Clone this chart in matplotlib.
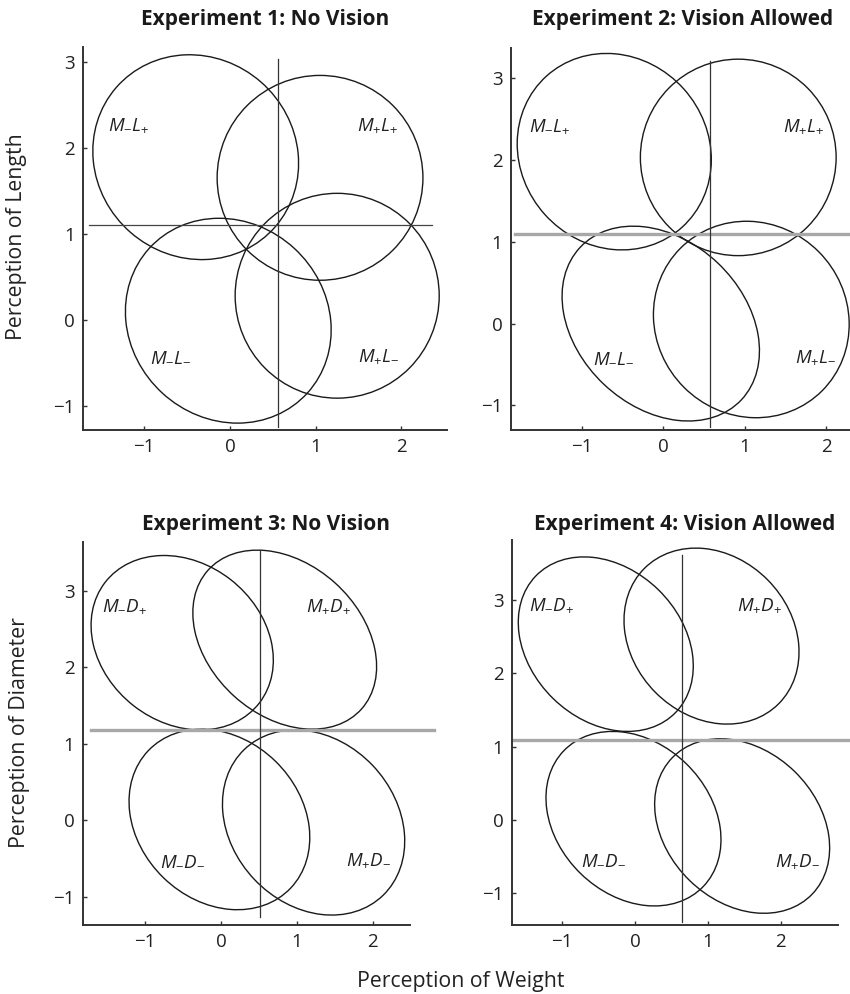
import numpy as np
import matplotlib
matplotlib.use("Agg")
import matplotlib.pyplot as plt
from matplotlib.patches import Ellipse

plt.rcParams["font.family"] = ["Open Sans", "DejaVu Sans"]
plt.rcParams["mathtext.fontset"] = "custom"
plt.rcParams["mathtext.it"] = "Open Sans:italic"
plt.rcParams["mathtext.rm"] = "Open Sans"

titles = [
    "Experiment 1: No Vision",
    "Experiment 2: Vision Allowed",
    "Experiment 3: No Vision",
    "Experiment 4: Vision Allowed",
]
cond_labels = [
    [r"$M_{-}L_{+}$", r"$M_{+}L_{+}$", r"$M_{-}L_{-}$", r"$M_{+}L_{-}$"],
    [r"$M_{-}L_{+}$", r"$M_{+}L_{+}$", r"$M_{-}L_{-}$", r"$M_{+}L_{-}$"],
    [r"$M_{-}D_{+}$", r"$M_{+}D_{+}$", r"$M_{-}D_{-}$", r"$M_{+}D_{-}$"],
    [r"$M_{-}D_{+}$", r"$M_{+}D_{+}$", r"$M_{-}D_{-}$", r"$M_{+}D_{-}$"],
]

# ellipse centres, half extents and tilt (correlation), one row per experiment
centre_x = [
    [-0.40, 1.05, -0.02, 1.25],
    [-0.60, 0.92, -0.03, 1.08],
    [-0.51, 0.84, -0.02, 1.22],
    [-0.40, 1.05, -0.02, 1.47],
]
centre_y = [
    [1.89, 1.65, -0.01, 0.28],
    [2.10, 2.03, 0.00, 0.05],
    [2.32, 2.36, 0.01, -0.03],
    [2.40, 2.51, 0.02, -0.08],
]
half_w = [
    [1.20, 1.20, 1.20, 1.19],
    [1.19, 1.20, 1.21, 1.20],
    [1.20, 1.21, 1.19, 1.20],
    [1.20, 1.20, 1.20, 1.20],
]
half_h = [
    [1.19, 1.19, 1.19, 1.19],
    [1.20, 1.20, 1.19, 1.20],
    [1.14, 1.17, 1.18, 1.21],
    [1.19, 1.20, 1.19, 1.19],
]
corr = [
    [-0.06, 0.00, -0.09, 0.00],
    [-0.08, 0.00, -0.28, -0.05],
    [-0.20, -0.30, -0.20, -0.20],
    [-0.25, -0.18, -0.24, -0.25],
]
label_x = [
    [-1.42, 1.48, -0.93, 1.49],
    [-1.64, 1.47, -0.86, 1.61],
    [-1.56, 1.12, -0.80, 1.65],
    [-1.45, 1.40, -0.74, 1.92],
]
label_y = [
    [2.20, 2.20, -0.48, -0.48],
    [2.35, 2.35, -0.47, -0.47],
    [2.74, 2.74, -0.58, -0.58],
    [2.86, 2.86, -0.60, -0.62],
]

# grand mean lines
vline_x = [0.56, 0.57, 0.52, 0.64]
vline_y0 = [-1.24, -1.26, -1.27, -1.39]
vline_y1 = [3.03, 3.21, 3.53, 3.62]
hline_y = [1.10, 1.09, 1.18, 1.09]
hline_x0 = [-1.65, -1.82, -1.71, -1.67]
hline_x1 = [2.36, 2.40, 2.80, 2.95]
hline_gray = [False, True, True, True]

x_ticks = [-1, 0, 1, 2]
y_ticks = [-1, 0, 1, 2, 3]

# layout: axes boxes and limits
axes_box = [
    [0.0976, 0.5674, 0.4282, 0.3853],
    [0.6008, 0.5674, 0.3992, 0.3846],
    [0.0973, 0.0694, 0.3851, 0.3856],
    [0.6020, 0.0694, 0.3835, 0.3873],
]
x_lims = [(-1.715, 2.53), (-1.87, 2.29), (-1.82, 2.49), (-1.69, 2.78)]
y_lims = [(-1.28, 3.17), (-1.30, 3.37), (-1.37, 3.64), (-1.43, 3.82)]
title_pos = [(265, 25), (683, 25), (266, 530), (685, 530)]

W, H = 850, 994
fig = plt.figure(figsize=(8.5, 9.94), dpi=100)

for i in range(4):
    ax = fig.add_axes(axes_box[i])
    for k in range(4):
        w, h, r = half_w[i][k], half_h[i][k], corr[i][k]
        cov = np.array([[w * w, r * w * h], [r * w * h, h * h]])
        vals, vecs = np.linalg.eigh(cov)
        ang = np.degrees(np.arctan2(vecs[1, 1], vecs[0, 1]))
        e = Ellipse((centre_x[i][k], centre_y[i][k]), 2 * np.sqrt(vals[1]),
                    2 * np.sqrt(vals[0]), angle=ang, fill=False,
                    edgecolor="#1a1a1a", linewidth=1.0, clip_on=False)
        ax.add_patch(e)
        ax.text(label_x[i][k], label_y[i][k], cond_labels[i][k], fontsize=13.5,
                color="#222222", ha="left", va="baseline")

    if hline_gray[i]:
        ax.plot([hline_x0[i], hline_x1[i]], [hline_y[i], hline_y[i]],
                color="#a8a8a8", linewidth=2.4, clip_on=False, zorder=1)
    else:
        ax.plot([hline_x0[i], hline_x1[i]], [hline_y[i], hline_y[i]],
                color="#444444", linewidth=0.9, clip_on=False, zorder=1)
    ax.plot([vline_x[i], vline_x[i]], [vline_y0[i], vline_y1[i]],
            color="#333333", linewidth=0.9, clip_on=False)

    ax.set_xlim(*x_lims[i])
    ax.set_ylim(*y_lims[i])
    ax.set_xticks(x_ticks)
    ax.set_yticks(y_ticks)
    ax.spines["top"].set_visible(False)
    ax.spines["right"].set_visible(False)
    for s in ["left", "bottom"]:
        ax.spines[s].set_linewidth(1.4)
        ax.spines[s].set_color("#333333")
    ax.tick_params(direction="in", length=3, width=1, color="#333333",
                   labelsize=13.5, labelcolor="#222222", pad=6)
    ax.set_facecolor("none")

    tx, ty = title_pos[i]
    fig.text(tx / W, 1 - ty / H, titles[i], fontsize=15, fontweight="bold",
             ha="center", va="baseline", color="#1a1a1a")

fig.text(17 / W, 1 - 237 / H, "Perception of Length", rotation=90,
         fontsize=15.3, ha="center", va="center", color="#222222")
fig.text(20 / W, 1 - 733 / H, "Perception of Diameter", rotation=90,
         fontsize=15.3, ha="center", va="center", color="#222222")
fig.text(461 / W, 1 - 982 / H, "Perception of Weight",
         fontsize=15.3, ha="center", va="center", color="#222222")

fig.savefig("out.png", dpi=100)
